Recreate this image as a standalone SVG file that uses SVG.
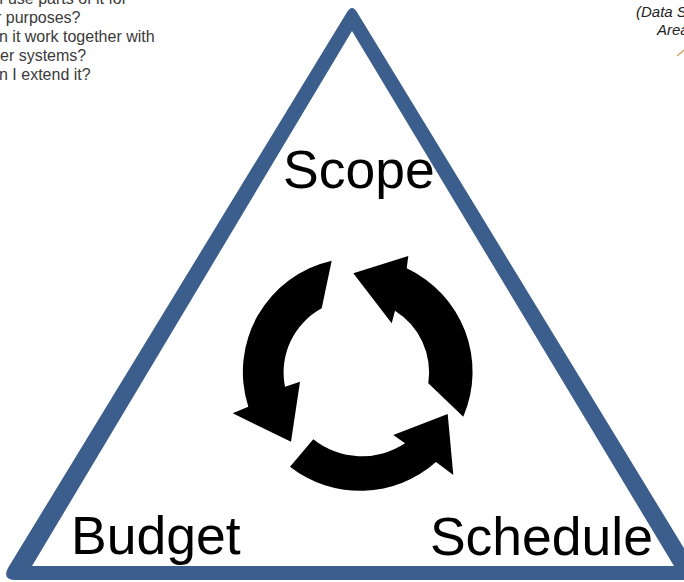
<svg xmlns="http://www.w3.org/2000/svg" width="684" height="582" viewBox="0 0 684 582">
<style>
.note{font-family:"Liberation Sans",Arial,sans-serif;font-size:16px;fill:#3a3a3a}
.noteR{font-family:"Liberation Sans",Arial,sans-serif;font-size:15px;font-style:italic;fill:#222}
.label{font-family:"Liberation Sans",Arial,sans-serif;font-size:53.5px;fill:#000}
.arrow{fill:#000}
</style>
<rect width="684" height="582" fill="#fff"/>
<g id="notes-left">
<text class="note" x="-1" y="4">I use parts of it for</text>
<text class="note" x="-4" y="23">r purposes?</text>
<text class="note" x="-1" y="42">n it work together with</text>
<text class="note" x="0" y="61">er systems?</text>
<text class="note" x="-1" y="80">n I extend it?</text>
</g>
<g id="notes-right">
<text class="noteR" x="636" y="17">(Data S</text>
<text class="noteR" x="657" y="35">Area</text>
<line x1="677" y1="56" x2="684" y2="50" stroke="#d6a56a" stroke-width="1.5"/>
</g>
<g id="triangle">
<path fill="#3b5e8c" fill-rule="evenodd" d="M347.1,12 Q352,4 356.9,12 L703.4,580 L16,580 Q0.6,580 9.2,566 Z M352,31 L32,566 L674,566 Z"/>
</g>
<g id="cycle">
<path class="arrow" d="M331.7,260.7 A114,114 0 0 0 248.3,406.7 L232.7,413.3 L291,441.7 L300,381.7 L285,386.7 A73,73 0 0 1 321.7,308.3 Z"/>
<path class="arrow" d="M463.3,416.7 A114,114 0 0 0 406.7,268.3 L408.3,256 L353.3,273.3 L391.7,323.3 L395,310.7 A73,73 0 0 1 428.3,383.3 Z"/>
<path class="arrow" d="M290,466.7 A114,114 0 0 0 436,462 L453.3,475 L447.7,414 L393.3,435 L405,443.3 A78,78 0 0 1 313.3,439.3 Z"/>
</g>
<g id="node-scope"><text class="label" x="283" y="188">Scope</text></g>
<g id="node-budget"><text class="label" x="71" y="554">Budget</text></g>
<g id="node-schedule"><text class="label" x="653" y="555" text-anchor="end">Schedule</text></g>
</svg>
